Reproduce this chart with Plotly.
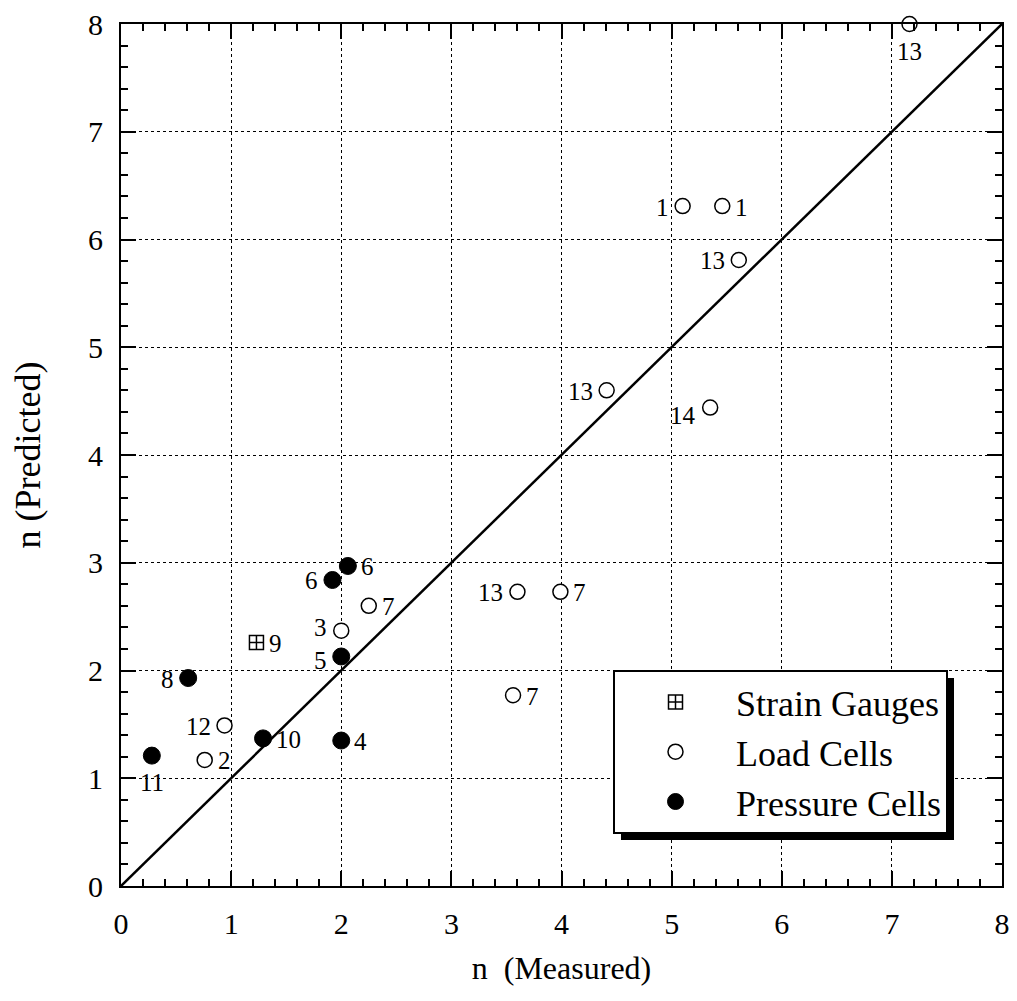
import plotly.graph_objects as go

# ---- data ----
load_x = [7.16, 5.10, 5.46, 5.61, 4.41, 5.35, 3.60, 3.99, 3.56, 2.25, 2.00, 0.94, 0.76]
load_y = [8.00, 6.31, 6.31, 5.81, 4.60, 4.44, 2.73, 2.73, 1.77, 2.60, 2.37, 1.49, 1.17]
load_lbl = ["13", "1", "1", "13", "13", "14", "13", "7", "7", "7", "3", "12", "2"]

press_x = [1.92, 2.06, 2.00, 0.61, 1.29, 2.00, 0.28]
press_y = [2.84, 2.97, 2.13, 1.93, 1.37, 1.35, 1.21]
press_lbl = ["6", "6", "5", "8", "10", "4", "11"]

strain_x = [1.23]
strain_y = [2.26]
strain_lbl = ["9"]

line_x = [0, 8]
line_y = [0, 8]

x_ticks = [0, 1, 2, 3, 4, 5, 6, 7, 8]
y_ticks = [0, 1, 2, 3, 4, 5, 6, 7, 8]

# label placement (style): L = left, R = right, B = below, BL = below-left,
# LU = left, nudged up; LD = left, nudged down
load_pos = ["B", "L", "R", "L", "L", "BL", "L", "R", "R", "R", "LU", "L", "R"]
press_pos = ["L", "R", "LD", "L", "R", "R", "B"]
strain_pos = ["R"]

FONT = "Liberation Serif"

fig = go.Figure()

fig.add_trace(go.Scatter(x=line_x, y=line_y, mode="lines",
                         line=dict(color="black", width=2.5),
                         showlegend=False, hoverinfo="skip"))

fig.add_trace(go.Scatter(x=strain_x, y=strain_y, mode="markers", name="Strain Gauges",
                         marker=dict(symbol="square-cross-open", size=14, color="black",
                                     line=dict(width=1.5, color="black")),
                         cliponaxis=False))
fig.add_trace(go.Scatter(x=load_x, y=load_y, mode="markers", name="Load Cells",
                         marker=dict(symbol="circle", size=15, color="white",
                                     line=dict(width=1.5, color="black")),
                         cliponaxis=False))
fig.add_trace(go.Scatter(x=press_x, y=press_y, mode="markers", name="Pressure Cells",
                         marker=dict(symbol="circle", size=17, color="black",
                                     line=dict(width=1, color="black")),
                         cliponaxis=False))

annos = []
for xs, ys, lb, pos in [(load_x, load_y, load_lbl, load_pos),
                        (press_x, press_y, press_lbl, press_pos),
                        (strain_x, strain_y, strain_lbl, strain_pos)]:
    for xv, yv, t, p in zip(xs, ys, lb, pos):
        a = dict(x=xv, y=yv, text=t, showarrow=False,
                 font=dict(family=FONT, size=25, color="black"))
        if p == "L":
            a.update(xanchor="right", yanchor="middle", xshift=-12, yshift=-1)
        elif p == "LU":
            a.update(xanchor="right", yanchor="middle", xshift=-12, yshift=3)
        elif p == "LD":
            a.update(xanchor="right", yanchor="middle", xshift=-12, yshift=-4)
        elif p == "R":
            a.update(xanchor="left", yanchor="middle", xshift=11, yshift=-1)
        elif p == "B":
            a.update(xanchor="center", yanchor="middle", yshift=-27)
        elif p == "BL":
            a.update(xanchor="right", yanchor="middle", xshift=-12, yshift=-8)
        annos.append(a)

axis_common = dict(
    range=[0, 8], showline=True, linecolor="black", linewidth=2, mirror="ticks",
    ticks="inside", ticklen=15, tickwidth=1.5, tickcolor="black",
    showgrid=True, gridcolor="black", gridwidth=1, griddash="dot",
    zeroline=False, tickfont=dict(family=FONT, size=30, color="black"),
    minor=dict(dtick=0.2, ticks="inside", ticklen=7, tickwidth=1.5, tickcolor="black",
               showgrid=False),
    ticklabelstandoff=10, automargin=False,
)

fig.update_xaxes(**axis_common, tickvals=x_ticks,
                 title=dict(text="n  (Measured)", font=dict(family=FONT, size=32, color="black"),
                            standoff=18))
fig.update_yaxes(**axis_common, tickvals=y_ticks,
                 title=dict(text="n (Predicted)", font=dict(family=FONT, size=36, color="black"),
                            standoff=36))

W, H = 1017, 1001
ml, mr, mt, mb = 121, 15, 24, 115
pw, ph = W - ml - mr, H - mt - mb

def px2x(p):
    return (p - ml) / pw

def px2y(p):
    return (H - mb - p) / ph

# legend drop shadow
fig.add_shape(type="rect", xref="paper", yref="paper",
              x0=px2x(621), x1=px2x(954), y0=px2y(840), y1=px2y(678),
              fillcolor="black", line=dict(width=0), layer="above")

fig.update_layout(
    width=W, height=H,
    margin=dict(l=ml, r=mr, t=mt, b=mb, autoexpand=False),
    plot_bgcolor="white", paper_bgcolor="white",
    font=dict(family=FONT, color="black"),
    annotations=annos,
    legend=dict(x=px2x(613), y=px2y(670), xanchor="left", yanchor="top",
                bgcolor="white", bordercolor="black", borderwidth=2,
                font=dict(family=FONT, size=36, color="black"),
                itemsizing="trace", itemwidth=111, tracegroupgap=0),
)

fig.write_html("out.html")
